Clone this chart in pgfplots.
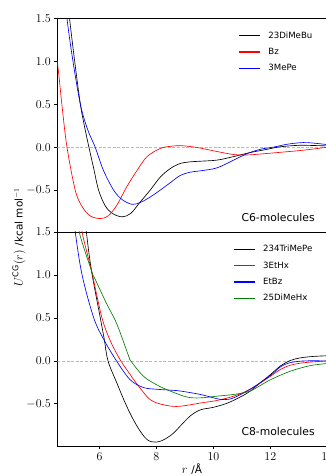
\documentclass[border=0pt]{standalone}
\usepackage{fontspec}
\setmainfont{DejaVu Sans}
\usepackage{pgfplots}
\pgfplotsset{compat=1.18}

\definecolor{mplgreen}{HTML}{008000}

\pgfplotsset{
  potaxis/.style={
    scale only axis, width=270pt, height=214pt,
    xmin=4.52, xmax=14, ymin=-0.99, ymax=1.5,
    ytick={-0.5,0,0.5,1,1.5},
    yticklabel style={/pgf/number format/fixed,/pgf/number format/fixed zerofill,/pgf/number format/precision=1},
    tick align=outside, tick pos=left,
    major tick length=3pt,
    axis line style={line width=0.8pt},
    tick style={line width=0.8pt, black},
    every tick label/.append style={font=\fontsize{11.5}{12}\selectfont},
    legend style={draw=none, fill=none, anchor=north east, at={(0.964,0.958)},
      font=\fontsize{8.6}{10}\selectfont,
      /tikz/row sep=4.5pt},
    legend cell align=left,
    legend image code/.code={\fill[##1, draw=none] (0pt,-0.65pt) rectangle (21pt,0.65pt);
      \path[draw=none, fill=none] (0pt,-2pt) rectangle (27pt,2pt);},
  },
  curve/.style={line width=0.65pt, smooth, tension=0.55},
  zeroline/.style={gray!55, line width=0.5pt, dash pattern=on 3pt off 1.6pt, forget plot},
}

\begin{document}
\begin{tikzpicture}
% upper panel: C6 molecules
\begin{axis}[potaxis, at={(57.3pt,243.7pt)}, anchor=south west, xtick=\empty]
\addplot[zeroline] coordinates {(4.52,0) (14,0)};
\addplot[curve, color=black] coordinates {
(4.85,1.85) (4.95,1.5) (5.13,1.0) (5.33,0.5) (5.47,0.25) (5.63,0.0) (5.80,-0.25)
(5.97,-0.5) (6.2,-0.68) (6.45,-0.77) (6.8,-0.81) (7.1,-0.77) (7.4,-0.65) (7.78,-0.5)
(8.13,-0.35) (8.48,-0.25) (8.83,-0.19) (9.2,-0.17) (9.54,-0.163) (10.13,-0.15)
(10.7,-0.11) (11.25,-0.065) (11.8,-0.03) (12.35,0.005) (13.0,0.022) (13.5,0.02) (14,0.015)};
\addlegendentry{23DiMeBu}
\addplot[curve, color=red] coordinates {
(4.52,1.0) (4.6,0.76) (4.68,0.5) (4.86,0.0) (5.15,-0.5) (5.39,-0.69) (5.68,-0.80)
(6.03,-0.83) (6.3,-0.80) (6.6,-0.68) (6.96,-0.46) (7.32,-0.27) (7.67,-0.11) (8.13,-0.015)
(8.48,0.01) (8.83,0.018) (9.19,0.008) (9.54,-0.01) (10.13,-0.05) (10.71,-0.085)
(11.2,-0.09) (11.8,-0.075) (12.5,-0.055) (13.15,-0.035) (14,0.0)};
\addlegendentry{Bz}
\addplot[curve, color=blue] coordinates {
(4.80,1.8) (4.86,1.5) (5.07,1.0) (5.33,0.5) (5.58,0.21) (5.85,0.0) (6.14,-0.27)
(6.5,-0.5) (6.8,-0.61) (7.15,-0.665) (7.45,-0.64) (7.78,-0.58) (8.13,-0.5) (8.48,-0.415)
(8.83,-0.33) (9.19,-0.29) (9.54,-0.275) (10.13,-0.24) (10.71,-0.15) (11.22,-0.07)
(11.7,-0.02) (12.1,0.0) (12.6,0.035) (13.15,0.054) (13.6,0.045) (14,0.03)};
\addlegendentry{3MePe}
\node[anchor=east, inner sep=0pt, font=\fontsize{10.8}{12}\selectfont] at (rel axis cs:0.954,0.068) {C6-molecules};
\end{axis}
% lower panel: C8 molecules
\begin{axis}[potaxis, at={(57.3pt,30pt)}, anchor=south west, xtick={6,8,10,12,14}]
\addplot[zeroline] coordinates {(4.52,0) (14,0)};
\addplot[curve, color=black] coordinates {
(5.45,1.8) (5.54,1.5) (5.72,1.05) (6.03,0.5) (6.17,0.25) (6.3,0.0) (6.61,-0.256)
(6.96,-0.53) (7.32,-0.76) (7.67,-0.915) (8.0,-0.945) (8.3,-0.91) (8.6,-0.84)
(8.83,-0.76) (9.19,-0.64) (9.54,-0.57) (10.0,-0.54) (10.5,-0.49) (11.0,-0.41)
(11.3,-0.35) (11.64,-0.256) (12.0,-0.16) (12.35,-0.06) (12.7,0.005) (13.05,0.035)
(13.5,0.052) (14,0.06)};
\addlegendentry{234TriMePe}
\addplot[curve, color=red] coordinates {
(5.3,1.8) (5.39,1.5) (5.72,1.05) (6.09,0.5) (6.4,0.22) (6.75,0.0) (7.02,-0.13)
(7.32,-0.27) (7.78,-0.45) (8.25,-0.51) (8.7,-0.53) (9.2,-0.51) (9.54,-0.49)
(10.13,-0.46) (10.71,-0.41) (11.29,-0.33) (12.0,-0.18) (12.35,-0.1) (12.7,-0.05)
(13.2,-0.02) (14,0.0)};
\addlegendentry{3EtHx}
\addplot[curve, color=blue] coordinates {
(5.05,1.8) (5.15,1.5) (5.39,1.0) (5.8,0.5) (6.15,0.25) (6.6,0.0) (7.08,-0.22)
(7.55,-0.31) (8.02,-0.33) (8.48,-0.34) (8.83,-0.35) (9.54,-0.39) (10.13,-0.44)
(10.4,-0.45) (10.71,-0.43) (11.29,-0.33) (12.0,-0.17) (12.35,-0.07) (12.7,-0.02)
(13.2,0.0) (14,0.0)};
\addlegendentry{EtBz}
\addplot[curve, color=mplgreen] coordinates {
(5.2,1.8) (5.29,1.5) (5.72,1.05) (5.85,0.95) (6.26,0.66) (6.61,0.43) (7.02,0.06)
(7.1,0.0) (7.55,-0.18) (8.02,-0.28) (8.48,-0.35) (9.07,-0.42) (9.54,-0.43)
(10.13,-0.41) (10.71,-0.39) (11.29,-0.35) (12.0,-0.22) (12.7,-0.12) (13.4,-0.055) (14,-0.03)};
\addlegendentry{25DiMeHx}
\node[anchor=east, inner sep=0pt, font=\fontsize{10.8}{12}\selectfont] at (rel axis cs:0.954,0.068) {C8-molecules};
\end{axis}
\node[rotate=90, font=\fontsize{10.5}{13}\selectfont] at (19pt,239pt) {\fontsize{12}{13}\selectfont$U^{\mathrm{CG}}(r)$ \fontsize{10.5}{13}\selectfont/kcal mol$^{-1}$};
\node at (192pt,7pt) {\fontsize{12}{13}\selectfont$r$ \fontsize{10.5}{13}\selectfont/Å};
\pgfresetboundingbox
\useasboundingbox (0pt,0pt) rectangle (325pt,476pt);
\end{tikzpicture}
\end{document}
